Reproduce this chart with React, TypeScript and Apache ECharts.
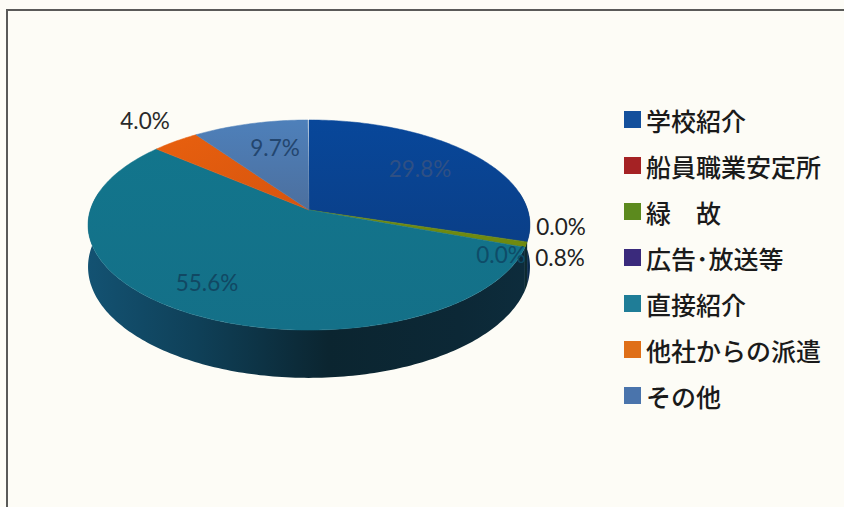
import React, { useEffect, useRef } from "react";
import * as echarts from "echarts";

const categories = ["学校紹介", "船員職業安定所", "緑　故", "広告･放送等", "直接紹介", "他社からの派遣", "その他"];
const shares = [29.8, 0.0, 0.8, 0.0, 55.6, 4.0, 9.7];
const legendColors = ["#14509c", "#a52224", "#5c8a1e", "#3a2a7c", "#1f7d97", "#df6f18", "#4a74ac"];

// projected disc
const CX = 309, CY = 210, SCALE_X = 218.7, SCALE_Y = 102.9, PERSPECTIVE = -1 / 7, THICKNESS = 41;
const FONT_LATIN = "Lato";
const FONT_CJK = "'Noto Sans CJK JP'";

const topFill = [
  { type: "linear", x: 0, y: 0, x2: 0, y2: 1, colorStops: [{ offset: 0, color: "#08479a" }, { offset: 1, color: "#0a3f88" }] },
  "#a52224",
  "#6f8a10",
  "#3a2a7c",
  { type: "linear", x: 0, y: 0, x2: 0, y2: 1, colorStops: [{ offset: 0, color: "#12758c" }, { offset: 1, color: "#147088" }] },
  { type: "linear", x: 0, y: 0, x2: 1, y2: 1, colorStops: [{ offset: 0, color: "#e8600e" }, { offset: 1, color: "#d6540f" }] },
  { type: "linear", x: 0, y: 0, x2: 0, y2: 1, colorStops: [{ offset: 0, color: "#4e80ba" }, { offset: 1, color: "#4c6f9e" }] },
];
const wallFill = [
  "#0a2a4e",
  "#401010",
  "#0d2a30",
  "#1a1440",
  { type: "linear", x: 0, y: 0, x2: 1, y2: 0, colorStops: [
    { offset: 0, color: "#135272" }, { offset: 0.25, color: "#0f4058" }, { offset: 0.55, color: "#0b2530" },
    { offset: 0.85, color: "#0c2836" }, { offset: 1, color: "#0d2c3c" },
  ] },
  "#7a3008",
  "#2a4060",
];

// label anchors, same order as the categories
const labelCentres = [[420, 168], [501, 254], [560, 257], [561, 226], [207, 282], [145, 120], [275, 147]];
const labelColors = ["#2f5084", "#0e4c68", "#222222", "#222222", "#114863", "#2a2a2a", "#23466f"];

function rim(deg: number, drop = 0): number[] {
  const t = (deg * Math.PI) / 180;
  const s = Math.sin(t);
  const c = -Math.cos(t);
  const w = 1 + PERSPECTIVE * c;
  return [CX + (SCALE_X * s) / w, CY + (SCALE_Y * c) / w + drop / w];
}

function arcPoints(a: number, b: number, drop = 0): number[][] {
  const pts: number[][] = [];
  const n = Math.max(2, Math.ceil(Math.abs(b - a)));
  for (let i = 0; i <= n; i++) pts.push(rim(a + ((b - a) * i) / n, drop));
  return pts;
}

const WALL_FROM = 80, WALL_TO = 280;

function sliceRenderer(idx: number) {
  return (_p: any, api: any) => {
    const a = api.value(0);
    const b = api.value(1);
    if (b - a <= 0) return null;
    const children: any[] = [];
    const wa = Math.max(a, WALL_FROM);
    const wb = Math.min(b, WALL_TO);
    if (wb > wa) {
      const pts = [...arcPoints(wa, wb), ...arcPoints(wa, wb, THICKNESS).reverse()];
      children.push({ type: "polygon", shape: { points: pts }, style: { fill: wallFill[idx] } });
    }
    children.push({
      type: "polygon",
      shape: { points: [[CX, CY], ...arcPoints(a, b)] },
      style: { fill: topFill[idx], stroke: topFill[idx], lineWidth: 0.5 },
    });
    return { type: "group", children };
  };
}

export default function App() {
  const ref = useRef<HTMLDivElement>(null);
  useEffect(() => {
    document.body.style.margin = "0";
    const chart = echarts.init(ref.current!, null, { renderer: "svg" });
    const total = 100;
    let acc = 0;
    const sliceSeries = categories.map((name, i) => {
      const start = (acc / total) * 360;
      acc += shares[i];
      const end = (acc / total) * 360;
      return {
        type: "custom",
        name,
        coordinateSystem: "none",
        silent: true,
        z: 2,
        itemStyle: { color: legendColors[i] },
        data: [[start, end, shares[i]]],
        encode: { value: [2] },
        renderItem: sliceRenderer(i),
      };
    });
    const labelSeries = {
      type: "custom",
      name: "labels",
      coordinateSystem: "none",
      silent: true,
      z: 5,
      data: shares.map((v, i) => [v, i]),
      renderItem: (_p: any, api: any) => {
        const i = api.value(1);
        return {
          type: "text",
          x: labelCentres[i][0],
          y: labelCentres[i][1],
          style: {
            text: `${api.value(0).toFixed(1)}%`,
            fill: labelColors[i],
            font: `22.5px ${FONT_LATIN}`,
            align: "center",
            verticalAlign: "middle",
          },
        };
      },
    };
    chart.setOption({
      animation: false,
      backgroundColor: "#fdfcf6",
      legend: {
        data: categories,
        orient: "vertical",
        left: 619,
        top: 102,
        itemWidth: 17,
        itemHeight: 17,
        itemGap: 21,
        icon: "rect",
        selectedMode: false,
        textStyle: { fontFamily: FONT_CJK, fontSize: 25, fontWeight: 500, color: "#1a1a1a" },
      },
      graphic: [
        {
          type: "polyline",
          silent: true,
          shape: { points: [[7, 507], [7, 10], [844, 10]] },
          style: { fill: "none", stroke: "#5a5a58", lineWidth: 2 },
        },
      ],
      series: [...sliceSeries, labelSeries],
    });
    return () => chart.dispose();
  }, []);
  return <div ref={ref} style={{ width: 844, height: 507 }} />;
}
